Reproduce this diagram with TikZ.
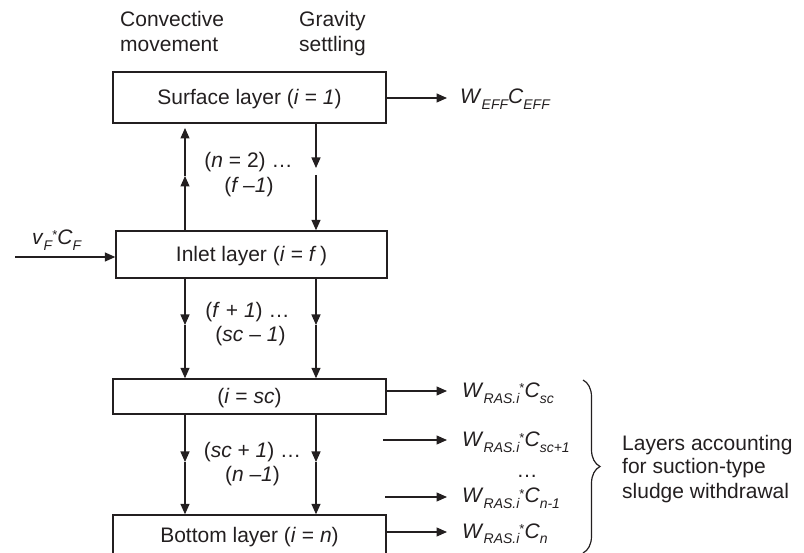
\documentclass[tikz,border=0pt]{standalone}
\usepackage{fontspec}
\setmainfont{Liberation Sans}
\usetikzlibrary{arrows.meta,decorations.pathreplacing}
\definecolor{ink}{HTML}{231F20}
\newcommand{\lsub}[1]{\raisebox{-5.5pt}{\fontsize{14}{14}\selectfont\itshape #1}}
\newcommand{\lstar}{\raisebox{5pt}{\fontsize{13}{13}\selectfont *}}
\begin{document}
\begin{tikzpicture}[x=1pt,y=-1pt,
  font=\fontsize{21}{25}\selectfont,
  every node/.style={text=ink, inner sep=0pt},
  layer/.style={draw=ink, line width=1.4pt, minimum width=273pt, text height=15pt, text depth=0pt},
  arr/.style={draw=ink, line width=1.4pt, -{Triangle[length=10.5pt,width=9pt]}},
  lbl/.style={anchor=base},
  txt/.style={anchor=base west}]
\useasboundingbox (0,0) rectangle (804,553);

% headers
\node[txt] (h1) at (120,27) {Convective};
\node[txt] (h2) at (120,52) {movement};
\node[txt] (h3) at (299,27) {Gravity};
\node[txt] (h4) at (299,52) {settling};

% layers
\node[layer, minimum height=51pt] (surf) at (249.5,97.5) {Surface layer (\textit{i} = \textit{1})};
\node[layer, minimum width=271pt, minimum height=47pt] (inlet) at (251.5,254.5) {Inlet layer (\textit{i} = \textit{f}\,)};
\node[layer, minimum height=35pt] (sc) at (249.5,396.5) {(\textit{i} = \textit{sc})};
\node[layer, minimum height=40pt] (bot) at (249.5,535) {Bottom layer (\textit{i} = \textit{n})};

% column coordinates
\coordinate (cL) at (185,0);
\coordinate (cR) at (316,0);
\coordinate (a1) at (185,176);
\coordinate (a1t) at (185,128);
\coordinate (b1) at (316,168);
\coordinate (b1s) at (316,175);
\coordinate (a2) at (185,325);
\coordinate (b2) at (316,325);
\coordinate (a3) at (185,462);
\coordinate (b3) at (316,462);

% surface <-> inlet
\draw[arr] (inlet.north -| cL) -- (a1);
\draw[arr] (a1) -- (a1t);
\draw[arr] (surf.south -| cR) -- (b1);
\draw[arr] (b1s) -- (inlet.north -| cR);
% inlet -> sc
\draw[arr] (inlet.south -| cL) -- (a2);
\draw[arr] (a2) -- (sc.north -| cL);
\draw[arr] (inlet.south -| cR) -- (b2);
\draw[arr] (b2) -- (sc.north -| cR);
% sc -> bottom
\draw[arr] (sc.south -| cL) -- (a3);
\draw[arr] (a3) -- (bot.north -| cL);
\draw[arr] (sc.south -| cR) -- (b3);
\draw[arr] (b3) -- (bot.north -| cR);

% gap labels
\node[lbl] (g1a) at (248.5,168) {(\textit{n} = 2) …};
\node[lbl] (g1b) at (249,193) {(\textit{f –1})};
\node[lbl] (g2a) at (247.5,318) {(\textit{f} + \textit{1}) …};
\node[lbl] (g2b) at (250.5,342) {(\textit{sc} – \textit{1})};
\node[lbl] (g3a) at (252.5,457) {(\textit{sc} + \textit{1}) …};
\node[lbl] (g3b) at (252.5,482) {(\textit{n –1})};

% inlet feed
\coordinate (in0) at (15,257);
\draw[arr] (in0) -- (inlet.west |- in0);
\node[txt] (feed) at (32,245) {\textit{v}\lsub{F}\lstar\textit{C}\lsub{F}};

% outputs
\coordinate (e0) at (447,98);
\draw[arr] (surf.east |- e0) -- (e0);
\node[txt] (weff) at (460,104) {\textit{W}\lsub{EFF}\textit{C}\lsub{EFF}};

\coordinate (e1) at (447,391);
\draw[arr] (sc.east |- e1) -- (e1);
\node[txt] (w1) at (462,398) {\textit{W}\lsub{RAS.i}\lstar\textit{C}\lsub{sc}};

\coordinate (s2) at (383,440);
\coordinate (e2) at (447,440);
\draw[arr] (s2) -- (e2);
\node[txt] (w2) at (462,447) {\textit{W}\lsub{RAS.i}\lstar\textit{C}\lsub{sc+1}};

\node[lbl] (dots) at (527,478) {…};

\coordinate (s3) at (385,497);
\coordinate (e3) at (447,497);
\draw[arr] (s3) -- (e3);
\node[txt] (w3) at (462,503) {\textit{W}\lsub{RAS.i}\lstar\textit{C}\lsub{n-1}};

\coordinate (e4) at (447,532);
\draw[arr] (bot.east |- e4) -- (e4);
\node[txt] (w4) at (462,538) {\textit{W}\lsub{RAS.i}\lstar\textit{C}\lsub{n}};

% brace
\coordinate (brt) at (583,380);
\coordinate (brb) at (583,553);
\draw[ink, line width=1.2pt, decorate, decoration={brace, amplitude=17pt}] (brt) -- (brb);

\node[txt] (l1) at (622,450) {Layers accounting};
\node[txt] (l2) at (622,474) {for suction-type};
\node[txt] (l3) at (622,498) {sludge withdrawal};
\end{tikzpicture}
\end{document}
